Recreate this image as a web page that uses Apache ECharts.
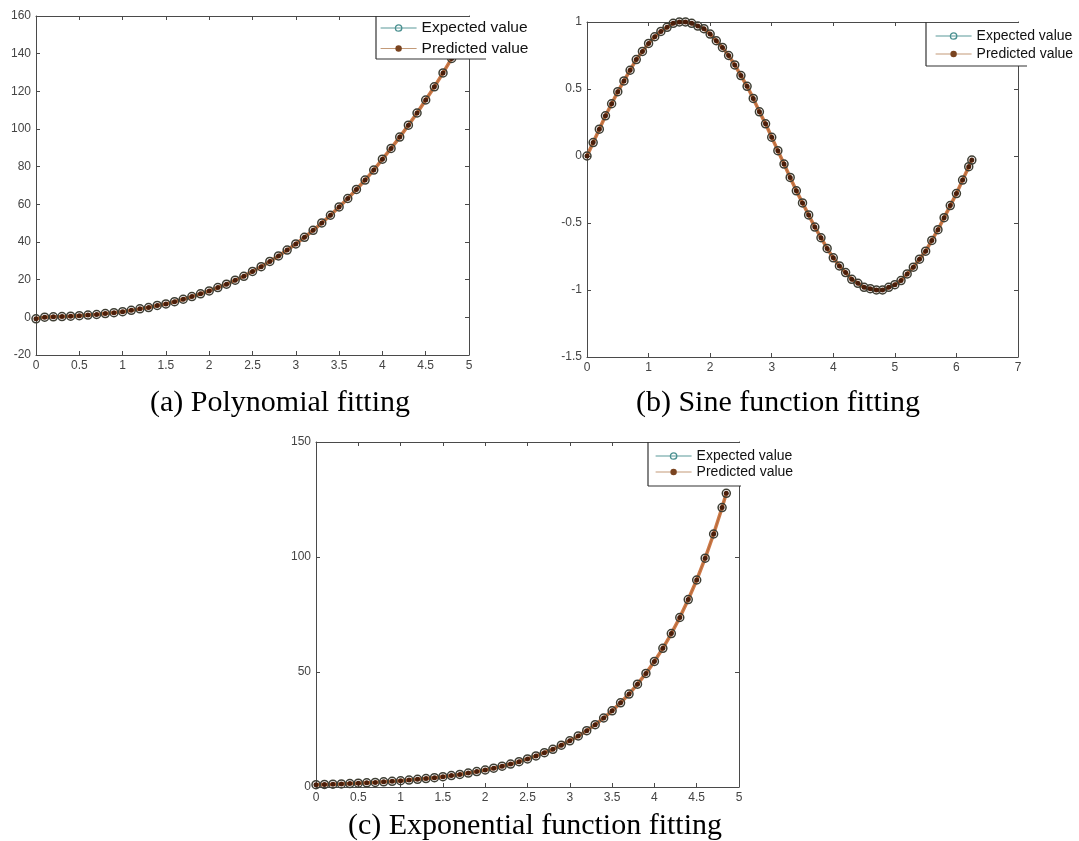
<!DOCTYPE html>
<html>
<head>
<meta charset="utf-8">
<title>fitting</title>
<script src="https://cdn.jsdelivr.net/npm/echarts@6/dist/echarts.min.js"></script>
<style>
  html, body { margin: 0; padding: 0; background: #fff; }
  #main { width: 1079px; height: 841px; }
</style>
</head>
<body>
<div id="main"></div>
<script>
// (a) polynomial fitting
var polyX = [0, 0.1, 0.2, 0.3, 0.4, 0.5, 0.6, 0.7, 0.8, 0.9, 1.0, 1.1, 1.2, 1.3, 1.4, 1.5, 1.6, 1.7, 1.8, 1.9,
  2.0, 2.1, 2.2, 2.3, 2.4, 2.5, 2.6, 2.7, 2.8, 2.9, 3.0, 3.1, 3.2, 3.3, 3.4, 3.5, 3.6, 3.7, 3.8, 3.9,
  4.0, 4.1, 4.2, 4.3, 4.4, 4.5, 4.6, 4.7, 4.8]
var polyExpected = [-0.8, 0.1, 0.25, 0.4, 0.6, 0.9, 1.2, 1.5, 2.0, 2.5, 3.0, 3.7, 4.5, 5.2, 6.3, 7.1, 8.3, 9.6, 11.0, 12.5,
  14.0, 15.8, 17.6, 19.7, 21.8, 24.4, 26.9, 29.7, 32.6, 35.7, 39.0, 42.5, 46.2, 50.1, 54.2, 58.6, 63.1, 67.9, 72.9, 78.2,
  84.0, 89.7, 95.7, 102.0, 108.5, 115.4, 122.4, 129.8, 137.5]
// predicted sits right on top of expected in the picture
var polyPredicted = polyExpected

// (b) sine function fitting
var sineX = [0, 0.1, 0.2, 0.3, 0.4, 0.5, 0.6, 0.7, 0.8, 0.9, 1.0, 1.1, 1.2, 1.3, 1.4, 1.5, 1.6, 1.7, 1.8, 1.9,
  2.0, 2.1, 2.2, 2.3, 2.4, 2.5, 2.6, 2.7, 2.8, 2.9, 3.0, 3.1, 3.2, 3.3, 3.4, 3.5, 3.6, 3.7, 3.8, 3.9,
  4.0, 4.1, 4.2, 4.3, 4.4, 4.5, 4.6, 4.7, 4.8, 4.9, 5.0, 5.1, 5.2, 5.3, 5.4, 5.5, 5.6, 5.7, 5.8, 5.9,
  6.0, 6.1, 6.2, 6.25]
var sineExpected = [0.00, 0.10, 0.20, 0.30, 0.39, 0.48, 0.56, 0.64, 0.72, 0.78, 0.84, 0.89, 0.93, 0.96, 0.99, 1.00, 1.00, 0.99, 0.97, 0.95,
  0.91, 0.86, 0.81, 0.75, 0.68, 0.60, 0.52, 0.43, 0.33, 0.24, 0.14, 0.04, -0.06, -0.16, -0.26, -0.35, -0.44, -0.53, -0.61, -0.69,
  -0.76, -0.82, -0.87, -0.92, -0.95, -0.98, -0.99, -1.00, -1.00, -0.98, -0.96, -0.93, -0.88, -0.83, -0.77, -0.71, -0.63, -0.55, -0.46, -0.37,
  -0.28, -0.18, -0.08, -0.03]
var sinePredicted = sineExpected

// (c) exponential function fitting
var expX = [0, 0.1, 0.2, 0.3, 0.4, 0.5, 0.6, 0.7, 0.8, 0.9, 1.0, 1.1, 1.2, 1.3, 1.4, 1.5, 1.6, 1.7, 1.8, 1.9,
  2.0, 2.1, 2.2, 2.3, 2.4, 2.5, 2.6, 2.7, 2.8, 2.9, 3.0, 3.1, 3.2, 3.3, 3.4, 3.5, 3.6, 3.7, 3.8, 3.9,
  4.0, 4.1, 4.2, 4.3, 4.4, 4.5, 4.6, 4.7, 4.8, 4.85]
var expExpected = [1.00, 1.11, 1.22, 1.35, 1.49, 1.65, 1.82, 2.01, 2.23, 2.46, 2.72, 3.00, 3.32, 3.67, 4.06, 4.48, 4.95, 5.47, 6.05, 6.69,
  7.39, 8.17, 9.03, 9.97, 11.0, 12.2, 13.5, 14.9, 16.4, 18.2, 20.1, 22.2, 24.5, 27.1, 30.0, 33.1, 36.6, 40.4, 44.7, 49.4,
  54.6, 60.3, 66.7, 73.7, 81.5, 90.0, 99.5, 110.0, 121.5, 127.7]
var expPredicted = expExpected

// axis ranges / tick steps
var xRanges = [[0, 5, 0.5], [0, 7, 1], [0, 5, 0.5]]
var yRanges = [[-20, 160, 20], [-1.5, 1, 0.5], [0, 150, 50]]
var captions = ['(a) Polynomial fitting', '(b) Sine function fitting', '(c) Exponential function fitting']

function pairs(xs, ys) {
  return xs.map(function (x, i) { return [x, ys[i]] })
}

var myChart = echarts.init(document.getElementById('main'))

var grids = [
  { left: 36, top: 16, width: 433, height: 339 },
  { left: 587, top: 22, width: 431, height: 335 },
  { left: 316, top: 442, width: 423, height: 345 }
]

var axisColor = '#4a4a4a'
var labelStyle = { color: '#444', fontSize: 12, fontFamily: 'Liberation Sans' }

var xAxis = []
var yAxis = []
grids.forEach(function (g, i) {
  var xr = xRanges[i], yr = yRanges[i]
  ;['bottom', 'top'].forEach(function (pos) {
    xAxis.push({
      type: 'value', gridIndex: i, position: pos,
      min: xr[0], max: xr[1], interval: xr[2],
      axisLine: { show: true, onZero: false, lineStyle: { color: axisColor } },
      axisTick: { show: true, inside: true, length: 4, lineStyle: { color: axisColor } },
      axisLabel: pos === 'bottom' ? Object.assign({ show: true, margin: 5 }, labelStyle) : { show: false },
      splitLine: { show: false }
    })
  })
  ;['left', 'right'].forEach(function (pos) {
    yAxis.push({
      type: 'value', gridIndex: i, position: pos,
      min: yr[0], max: yr[1], interval: yr[2],
      axisLine: { show: true, onZero: false, lineStyle: { color: axisColor } },
      axisTick: { show: true, inside: true, length: 4, lineStyle: { color: axisColor } },
      axisLabel: pos === 'left' ? Object.assign({ show: true, margin: 5 }, labelStyle) : { show: false },
      splitLine: { show: false }
    })
  })
})

var panelData = [
  [polyX, polyExpected, polyPredicted],
  [sineX, sineExpected, sinePredicted],
  [expX, expExpected, expPredicted]
]

var series = []
panelData.forEach(function (d, i) {
  series.push({
    name: 'Expected value',
    type: 'line',
    xAxisIndex: i * 2, yAxisIndex: i * 2,
    data: pairs(d[0], d[1]),
    symbol: 'circle',
    symbolSize: 8,
    lineStyle: { color: '#5a9a9a', width: 1 },
    itemStyle: { color: 'rgba(0,0,0,0)', borderColor: '#3e3e34', borderWidth: 1.5 }
  })
  series.push({
    name: 'Predicted value',
    type: 'line',
    xAxisIndex: i * 2, yAxisIndex: i * 2,
    data: pairs(d[0], d[2]),
    symbol: 'circle',
    symbolSize: 5,
    lineStyle: { color: 'rgba(196, 98, 40, 0.85)', width: 3.5 },
    itemStyle: { color: '#4a1e0a' }
  })
})

// legends, one per panel; the legend keys use the lighter MATLAB colours
var legendItems = [
  { name: 'Expected value', lineStyle: { color: '#5a9a9a', width: 1.2 }, itemStyle: { color: 'rgba(0,0,0,0)', borderColor: '#4a9090', borderWidth: 1.3 } },
  { name: 'Predicted value', lineStyle: { color: '#c39a78', width: 1.2 }, itemStyle: { color: '#7a4420' } }
]
var legendPos = [
  { left: 375, top: 15, fontSize: 15.5, gap: 4.5 },
  { left: 930, top: 24, fontSize: 14, gap: 4 },
  { left: 650, top: 444, fontSize: 14, gap: 2 }
]
var legend = legendPos.map(function (p) {
  return {
    data: legendItems,
    orient: 'vertical',
    left: p.left, top: p.top,
    itemWidth: 36, itemHeight: 8, itemGap: p.gap,
    selectedMode: false,
    z: 60,
    textStyle: { color: '#111', fontSize: p.fontSize, fontFamily: 'Liberation Sans' }
  }
})

// legend boxes (only left + bottom edges show in the picture)
var boxes = [
  { x: 376, y: 16, w: 164, h: 43, lineEnd: 486 },
  { x: 926, y: 22, w: 153, h: 44, lineEnd: 1027 },
  { x: 648, y: 442, w: 160, h: 44, lineEnd: 741 }
]
var graphic = []
boxes.forEach(function (b) {
  graphic.push({ type: 'rect', z: 50, shape: { x: b.x, y: b.y + 1, width: b.w, height: b.h - 1 }, style: { fill: '#fff' } })
  graphic.push({ type: 'line', z: 51, shape: { x1: b.x, y1: b.y, x2: b.x, y2: b.y + b.h }, style: { stroke: '#333', lineWidth: 1.2 } })
  graphic.push({ type: 'line', z: 51, shape: { x1: b.x, y1: b.y + b.h, x2: b.lineEnd, y2: b.y + b.h }, style: { stroke: '#333', lineWidth: 1.2 } })
})

var titlePos = [[275, 383], [773, 383], [530, 806]]
var title = captions.map(function (c, i) {
  return {
    text: c,
    left: titlePos[i][0], top: titlePos[i][1],
    textAlign: 'center',
    textStyle: { color: '#000', fontSize: 30, fontWeight: 'normal', fontFamily: 'Liberation Serif' }
  }
})

var option = {
  animation: false,
  backgroundColor: '#fff',
  title: title,
  grid: grids,
  xAxis: xAxis,
  yAxis: yAxis,
  legend: legend,
  graphic: graphic,
  series: series
}

if (option && typeof option === 'object') {
  myChart.setOption(option)
}
window.addEventListener('resize', function () {
  myChart.resize()
})
</script>
</body>
</html>
